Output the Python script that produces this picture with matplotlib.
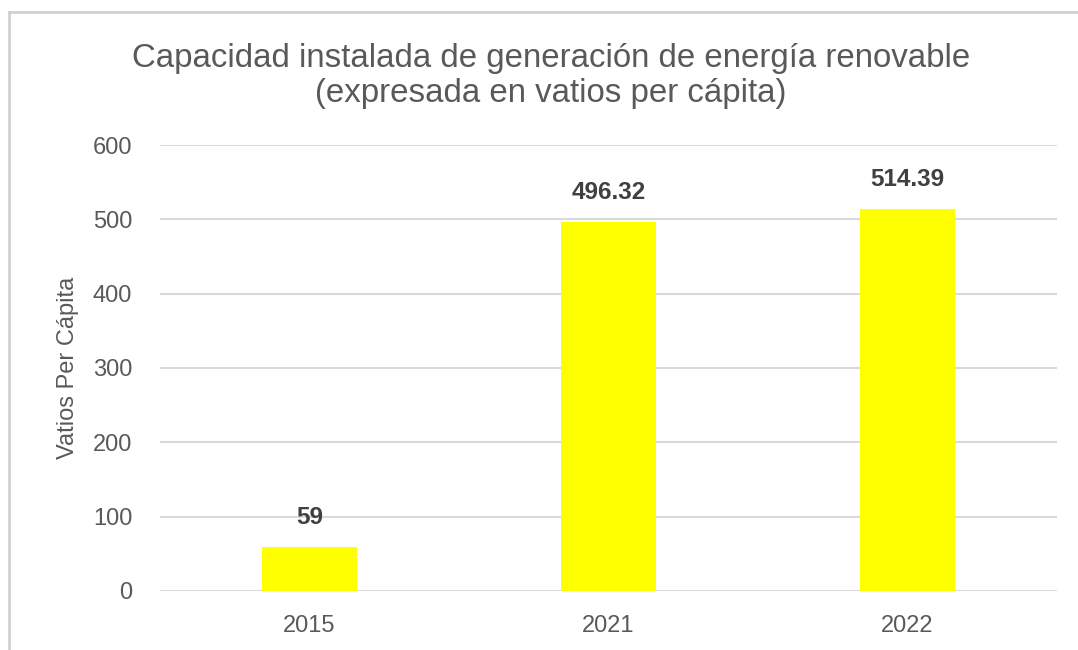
import matplotlib.pyplot as plt
from matplotlib.lines import Line2D

plt.rcParams['font.family'] = ['Liberation Sans', 'DejaVu Sans']

years = ['2015', '2021', '2022']
watts = [59, 496.32, 514.39]
labels = ['59', '496.32', '514.39']
yticks = [0, 100, 200, 300, 400, 500, 600]

fig = plt.figure(figsize=(10.78, 6.5), dpi=100)
ax = fig.add_axes([0.1484, 0.0908, 0.8321, 0.6861])

x = range(len(years))
bars = ax.bar(x, watts, width=0.32, color='#ffff00', zorder=3)
for b, lab in zip(bars, labels):
    ax.annotate(lab, (b.get_x() + b.get_width() / 2, b.get_height()),
                xytext=(0, 13), textcoords='offset points', ha='center', va='bottom',
                fontsize=17.5, fontweight='bold', color='#404040')

ax.set_xlim(-0.5, 2.5)
ax.set_ylim(0, 600)
ax.set_yticks(yticks)
ax.set_xticks(list(x))
ax.set_xticklabels(years)
ax.tick_params(axis='both', length=0, labelsize=17, colors='#595959')
ax.tick_params(axis='y', pad=20)
ax.tick_params(axis='x', pad=17)
ax.grid(axis='y', color='#d9d9d9', linewidth=1.5, zorder=0)
for s in ax.spines.values():
    s.set_visible(False)
ax.set_ylabel('Vatios Per Cápita', fontsize=17, color='#595959', labelpad=10)

fig.text(0.511, 0.883, 'Capacidad instalada de generación de energía renovable\n(expresada en vatios per cápita)',
         ha='center', va='center', fontsize=23.8, color='#595959', linespacing=1.15)

# outer chart frame (top and left edges visible)
fig.add_artist(Line2D([0.008, 1.0], [0.982, 0.982], color='#d0d0d0', linewidth=2, transform=fig.transFigure))
fig.add_artist(Line2D([0.008, 0.008], [0.0, 0.982], color='#d0d0d0', linewidth=2, transform=fig.transFigure))

fig.savefig('out.png', dpi=100)
